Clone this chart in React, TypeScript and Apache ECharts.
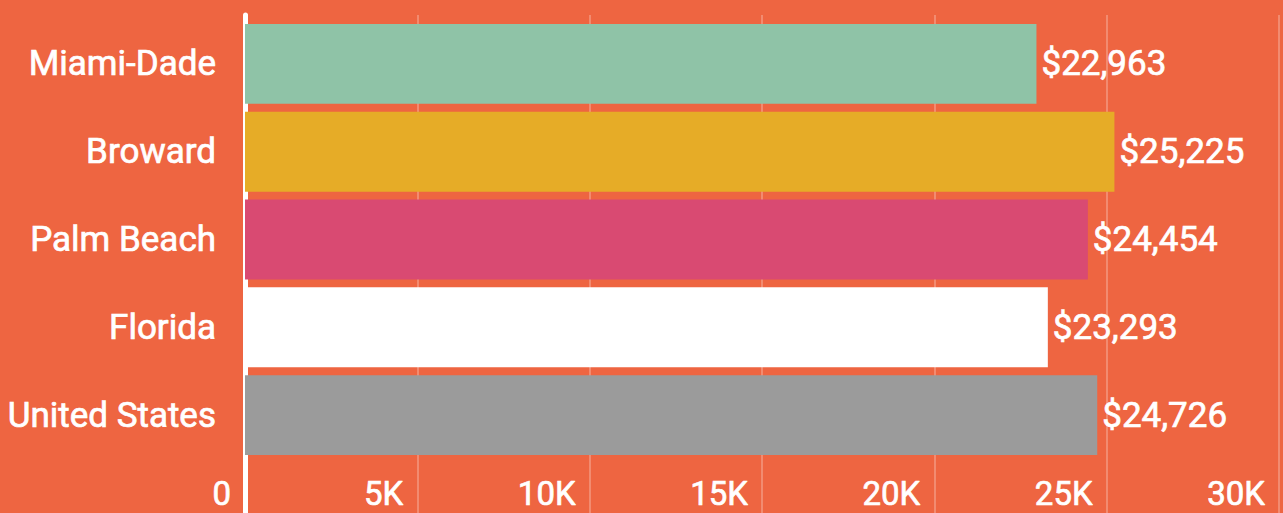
import React, { useEffect, useRef } from "react";
import * as echarts from "echarts";

const categories = ["Miami-Dade", "Broward", "Palm Beach", "Florida", "United States"];
const values = [22963, 25225, 24454, 23293, 24726];
const barColors = ["#8FC3A7", "#E6AC27", "#D94A72", "#FFFFFF", "#9B9B9B"];
const tickLabels: Record<number, string> = { 0: "0", 5000: "5K", 10000: "10K", 15000: "15K", 20000: "20K", 25000: "25K", 30000: "30K" };

const FONT = "Roboto";
const textStyle = {
  color: "#FFFFFF",
  fontFamily: FONT,
  fontWeight: "normal",
  textBorderColor: "#FFFFFF",
  textBorderWidth: 0.7,
};

export default function App() {
  const ref = useRef<HTMLDivElement>(null);
  useEffect(() => {
    if (!ref.current) return;
    const chart = echarts.init(ref.current, undefined, { renderer: "svg" });
    chart.setOption({
      animation: false,
      backgroundColor: "#EE6541",
      grid: [
        { left: 245, right: 4, top: 15, bottom: 0 },
        { left: 245, right: 4, top: 20, height: 439 },
      ],
      xAxis: [
        {
          gridIndex: 0,
          type: "value",
          min: 0,
          max: 30000,
          interval: 5000,
          axisLine: { show: false },
          axisTick: { show: false },
          splitLine: { show: true, lineStyle: { color: "rgba(255,255,255,0.25)", width: 2 } },
          axisLabel: {
            ...textStyle,
            inside: true,
            margin: 3,
            align: "right",
            padding: [0, 14, 0, 0],
            fontSize: 33,
            formatter: (v: number) => tickLabels[v] ?? "",
          },
        },
        {
          gridIndex: 1,
          type: "value",
          min: 0,
          max: 30000,
          show: false,
        },
      ],
      yAxis: [
        {
          gridIndex: 0,
          type: "value",
          offset: 2,
          axisLine: { show: true, lineStyle: { color: "#FFFFFF", width: 5 } },
          axisTick: { show: false },
          axisLabel: { show: false },
          splitLine: { show: false },
        },
        {
          gridIndex: 1,
          type: "category",
          inverse: true,
          data: categories,
          axisLine: { show: false },
          axisTick: { show: false },
          axisLabel: {
            ...textStyle,
            margin: 29,
            fontSize: 35,
          },
        },
      ],
      series: [
        {
          type: "bar",
          xAxisIndex: 1,
          yAxisIndex: 1,
          barCategoryGap: "9%",
          data: values.map((v, i) => ({ value: v, itemStyle: { color: barColors[i] } })),
          label: {
            ...textStyle,
            show: true,
            position: "right",
            distance: 5,
            fontSize: 35,
            formatter: (p: any) => "$" + Number(p.value).toLocaleString("en-US"),
          },
        },
      ],
    });
    return () => chart.dispose();
  }, []);
  return <div ref={ref} style={{ position: "fixed", left: 0, top: 0, width: 1283, height: 513 }} />;
}
